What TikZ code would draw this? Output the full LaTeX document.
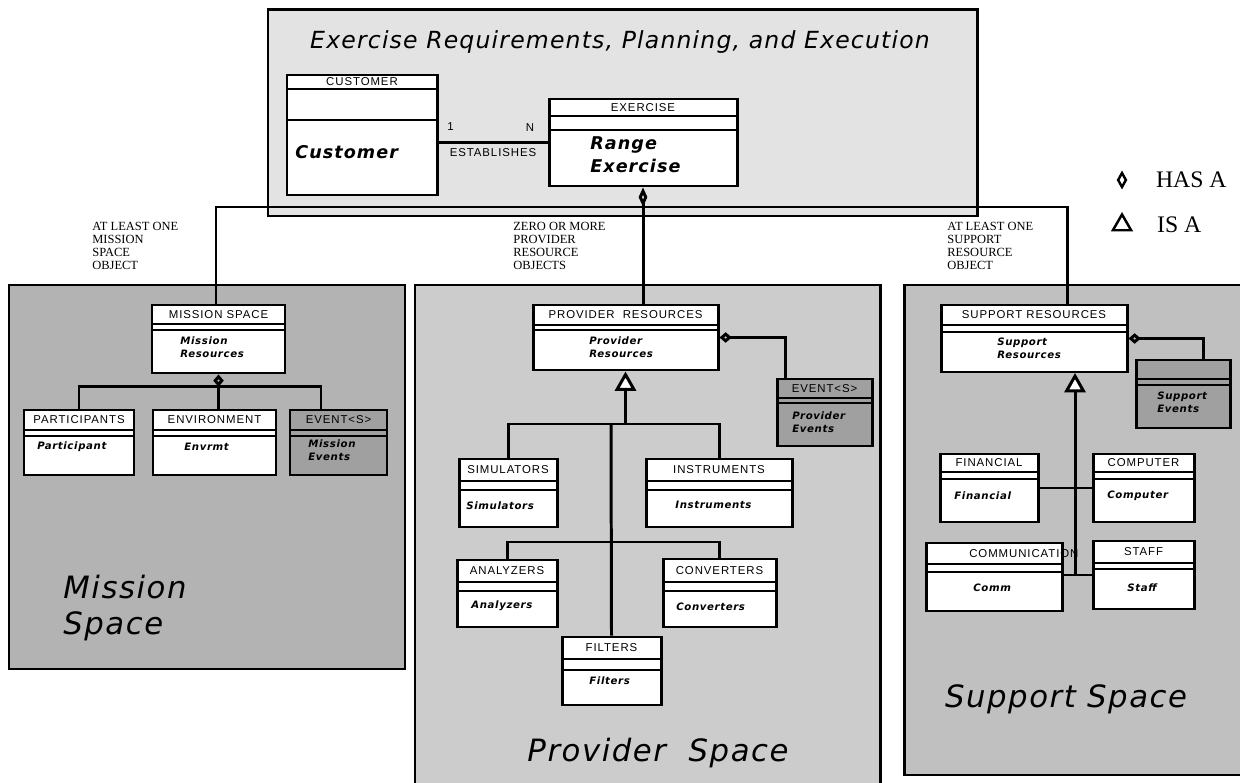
\documentclass[tikz,border=0pt]{standalone}
\usepackage{fontspec}
\setmainfont{Liberation Serif}
\newfontfamily\headfont[LetterSpace=8]{Liberation Sans}
\newfontfamily\bodyfont[LetterSpace=6]{DejaVu Sans Bold Oblique}
\newfontfamily\spacefont[LetterSpace=5]{DejaVu Sans Oblique}
\usetikzlibrary{arrows.meta,fit,positioning,shapes.geometric}
\definecolor{planninggray}{RGB}{227,227,227}
\definecolor{missiongray}{RGB}{179,179,179}
\definecolor{providergray}{RGB}{204,204,204}
\definecolor{supportgray}{RGB}{192,192,192}
\definecolor{eventgray}{RGB}{160,160,160}

\tikzset{
  frame/.style={draw,line width=1.7pt,inner sep=0pt},
  classbox/.style={draw,line width=1.7pt,inner sep=0pt,fill=white},
  conn/.style={line width=1.7pt},
  headtext/.style={font=\headfont\fontsize{6.5}{7}\selectfont,inner sep=0pt},
  bodytext/.style={font=\bodyfont\fontsize{5.8}{7.6}\selectfont,align=left,anchor=west,inner sep=0pt},
  bigtext/.style={font=\bodyfont\fontsize{10}{13}\selectfont,align=left,anchor=west,inner sep=0pt},
  notetext/.style={font=\fontsize{7.1}{7.4}\selectfont,align=left,anchor=north west,inner sep=0pt},
  spacetext/.style={font=\spacefont\fontsize{17.5}{21}\selectfont,align=left,inner sep=0pt},
  legendtext/.style={font=\fontsize{13.5}{15}\selectfont,inner sep=0pt},
  hasa/.style={{Diamond[open,length=7pt,width=6pt]}-},
  isa/.style={{Triangle[fill=white,length=11pt,width=12pt]}-},
}

% class box: [fill]{name}{x1}{y1}{x2}{y2}{first line}{second line}{header}
\newcommand{\umlclass}[9][white]{%
  \node[classbox,fill=#1,fit={(#3,#4) (#5,#6)}] (#2) {};
  \draw[conn] (#3,#7) -- (#5,#7) (#3,#8) -- (#5,#8);
  \node[headtext] (#2-head) at ({(#3+#5)/2},{(#4+#7)/2}) {#9};
}

\begin{document}
\begin{tikzpicture}[x=0.02cm,y=-0.02cm]
\useasboundingbox (0,0) rectangle (1240,783);

% the four spaces
\node[frame,fill=planninggray,fit={(268,10) (977,216)}] (erpe) {};
\node[frame,fill=missiongray,fit={(9,285) (405,669)}] (msnspace) {};
\node[frame,fill=providergray,fit={(415,285) (880,800)}] (provspace) {};
\node[frame,fill=supportgray,fit={(904,285) (1250,775)}] (supspace) {};

\node[font=\spacefont\fontsize{13.4}{15}\selectfont] (erpe-title) at (620,42) {Exercise Requirements, Planning, and Execution};
\node[spacetext,anchor=west] (msnspace-title) at (63,608) {Mission\\Space};
\node[spacetext,anchor=base] (provspace-title) at (658,761) {Provider\ \ Space};
\node[spacetext,anchor=base] (supspace-title) at (1066,707) {Support Space};

% legend
\node[draw,diamond,line width=1.4pt,inner sep=0pt,minimum width=5pt,minimum height=8.5pt] (legd) at (1122,180) {};
\node[draw,regular polygon,regular polygon sides=3,line width=1.4pt,inner sep=0pt,minimum size=12pt] (legt) at (1122,225) {};
\node[legendtext,right=16pt of legd] (legd-text) {HAS A};
\node[legendtext,right=15.5pt of legt] (legt-text) {IS A};

% exercise planning
\umlclass{cust}{287}{75}{437}{195}{89}{120}{CUSTOMER}
\umlclass{exer}{549}{99}{737}{186}{116}{130}{EXERCISE}
\node[bigtext] (cust-body) at (295,152) {Customer};
\node[bigtext] (exer-body) at (590,155) {Range\\Exercise};
\draw[conn] (cust.east |- exer.west) -- (exer.west)
  node[headtext,pos=0.11,above=6pt] (card1) {1}
  node[headtext,pos=0.84,above=5.5pt] (cardN) {N}
  node[headtext,pos=0.5,below=2.5pt] (estab) {ESTABLISHES};

% bus to the three spaces
\coordinate (busL) at (216,207);
\coordinate (busR) at (1067,207);
\node[notetext] (msnnote) at (92,222) {AT LEAST ONE\\MISSION\\SPACE\\OBJECT};
\node[notetext] (provnote) at (513,222) {ZERO OR MORE\\PROVIDER\\RESOURCE\\OBJECTS};
\node[notetext] (supnote) at (947,222) {AT LEAST ONE\\SUPPORT\\RESOURCE\\OBJECT};

% mission space
\umlclass{msn}{152}{305}{285}{373}{324}{330}{MISSION SPACE}
\node[bodytext] (msn-body) at (180,347) {Mission\\Resources};
\umlclass{par}{24}{410}{134}{475}{430}{436}{PARTICIPANTS}
\node[bodytext] (par-body) at (37,447) {Participant};
\umlclass{env}{153}{410}{276}{475}{430}{436}{ENVIRONMENT}
\node[bodytext] (env-body) at (184,447) {Envrmt};
\umlclass[eventgray]{mevt}{290}{410}{387}{475}{430}{436}{EVENT<S>}
\node[bodytext] (mevt-body) at (308,450) {Mission\\Events};
\coordinate (mevt-in) at (321,410);
\draw[conn,hasa] (msn.south) -- ++(0,12) coordinate (mbar);
\draw[conn] (par.north) |- (mbar) -| (mevt-in);
\draw[conn] (mbar) -- (mbar |- env.north);

% provider space
\umlclass{prov}{533}{305}{718}{370}{325}{330}{PROVIDER\ \ RESOURCES}
\node[bodytext] (prov-body) at (589,347) {Provider\\Resources};
\umlclass[eventgray]{pevt}{777}{379}{872}{446}{398}{403}{EVENT<S>}
\node[bodytext] (pevt-body) at (792,422) {Provider\\Events};
\coordinate (pevt-in) at (785,379);
\draw[conn,hasa] (prov.east) -| (pevt-in);
\umlclass{sim}{459}{459}{557}{527}{481}{490}{SIMULATORS}
\node[bodytext] (sim-body) at (466,506) {Simulators};
\umlclass{ins}{646}{459}{792}{527}{481}{490}{INSTRUMENTS}
\node[bodytext] (ins-body) at (675,505) {Instruments};
\umlclass{ana}{457}{560}{557}{627}{582}{591}{ANALYZERS}
\node[bodytext] (ana-body) at (471,606) {Analyzers};
\umlclass{con}{663}{559}{776}{627}{582}{591}{CONVERTERS}
\node[bodytext] (con-body) at (676,607) {Converters};
\umlclass{fil}{562}{637}{661}{705}{659}{670}{FILTERS}
\node[bodytext] (fil-body) at (589,681) {Filters};
\coordinate (pbar) at (611,424);
\coordinate (pbar2) at (611,542);
\draw[conn,isa] (prov.south) -- (prov.south |- pbar);
\draw[conn] (sim.north) |- (pbar) -| (ins.north);
\draw[conn] (pbar) -- (fil.north);
\draw[conn] (ana.north) |- (pbar2) -| (con.north);

% support space
\umlclass{sup}{941}{305}{1127}{372}{325}{332}{SUPPORT RESOURCES}
\node[bodytext] (sup-body) at (997,348) {Support\\Resources};
\umlclass[eventgray]{sevt}{1136}{360}{1230}{428}{379}{385}{}
\node[bodytext] (sevt-body) at (1157,402) {Support\\Events};
\coordinate (sevt-in) at (1203,360);
\draw[conn,hasa] (sup.east) -| (sevt-in);
\umlclass{fin}{940}{454}{1038}{522}{472}{479}{FINANCIAL}
\node[bodytext] (fin-body) at (954,496) {Financial};
\umlclass{cpu}{1093}{454}{1194}{522}{472}{479}{COMPUTER}
\node[bodytext] (cpu-body) at (1107,496) {Computer};
\umlclass{com}{926}{543}{1062}{611}{564}{572}{\hspace*{34pt}COMMUNICATION}
\node[bodytext] (com-body) at (973,588) {Comm};
\umlclass{stf}{1093}{541}{1194}{609}{563}{569}{STAFF}
\node[bodytext] (stf-body) at (1127,588) {Staff};
\coordinate (sup-isa) at (1075,373);
\draw[conn,isa] (sup-isa) -- (sup-isa |- stf.west);
\draw[conn] (fin.east) -- (cpu.west);
\draw[conn] (com.east |- stf.west) -- (stf.west);

% connectors from the exercise
\draw[conn] (msn.north -| busL) -- (busL) -- (busR) -- (busR |- sup.north);
\draw[conn,{Diamond[open,length=11pt,width=5pt]}-] (exer.south) -- (exer.south |- prov.north);

\end{tikzpicture}
\end{document}
